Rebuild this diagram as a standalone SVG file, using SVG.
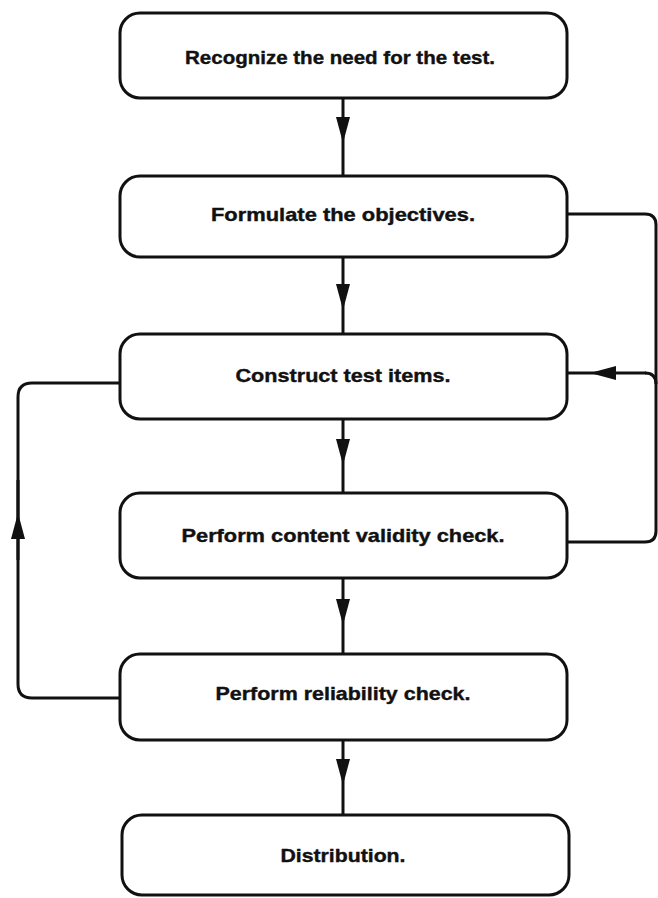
<svg xmlns="http://www.w3.org/2000/svg" width="658" height="898" viewBox="0 0 658 898">
<style>
.box{fill:#fff;stroke:#111;stroke-width:3}
.lbl{font-family:"Liberation Sans",Arial,sans-serif;font-weight:bold;font-size:19px;fill:#111;stroke:#111;stroke-width:0.4;text-anchor:middle}
.ln{fill:none;stroke:#111;stroke-width:3}
.arr{fill:none;stroke:#111;stroke-width:3;marker-mid:url(#ah)}
</style>
<defs>
<marker id="ah" viewBox="0 0 26 14" refX="26" refY="7" markerUnits="userSpaceOnUse" markerWidth="26" markerHeight="14" orient="auto">
<path d="M0,0 L26,7 L0,14 z" fill="#111"/>
</marker>
</defs>
<g id="connectors">
<path class="arr" d="M343,98 L343,143 L343,176"/>
<path class="arr" d="M343,257 L343,310 L343,334"/>
<path class="arr" d="M343,419 L343,465 L343,493"/>
<path class="arr" d="M343,578 L343,625 L343,654"/>
<path class="arr" d="M343,740 L343,785 L343,815"/>
<path class="ln" d="M567,214 H645 Q656,214 656,225 V531 Q656,542 645,542 H567"/>
<path class="ln" d="M645,373 Q656,373 656,384"/>
<path class="arr" d="M646,373 L590,373 L567,373"/>
<path class="ln" d="M120,698 H32 Q18,698 18,684 V397 Q18,383 32,383 H120"/>
<path class="arr" d="M18,560 L18,513 L18,480"/>
</g>
<g id="n1"><rect class="box" x="120" y="13" width="447" height="85" rx="20"/><text class="lbl" x="340" y="64" textLength="310" lengthAdjust="spacingAndGlyphs">Recognize the need for the test.</text></g>
<g id="n2"><rect class="box" x="120" y="176" width="447" height="81" rx="20"/><text class="lbl" x="343" y="221" textLength="264" lengthAdjust="spacingAndGlyphs">Formulate the objectives.</text></g>
<g id="n3"><rect class="box" x="120" y="334" width="447" height="85" rx="20"/><text class="lbl" x="343" y="382" textLength="215" lengthAdjust="spacingAndGlyphs">Construct test items.</text></g>
<g id="n4"><rect class="box" x="120" y="493" width="447" height="85" rx="20"/><text class="lbl" x="343" y="542" textLength="323" lengthAdjust="spacingAndGlyphs">Perform content validity check.</text></g>
<g id="n5"><rect class="box" x="120" y="654" width="447" height="86" rx="20"/><text class="lbl" x="343" y="700" textLength="255" lengthAdjust="spacingAndGlyphs">Perform reliability check.</text></g>
<g id="n6"><rect class="box" x="122" y="815" width="447" height="80" rx="20"/><text class="lbl" x="343" y="862" textLength="125" lengthAdjust="spacingAndGlyphs">Distribution.</text></g>
</svg>
